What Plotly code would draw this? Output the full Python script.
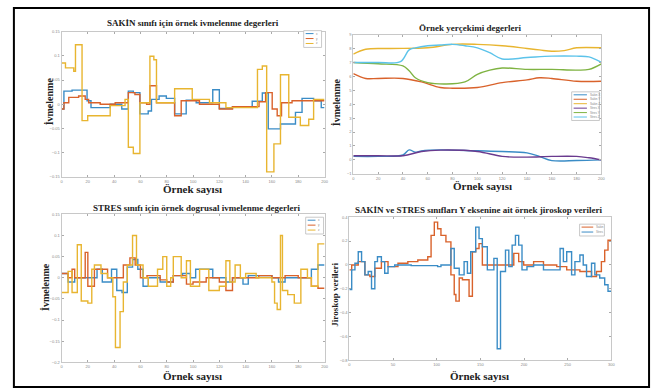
import plotly.graph_objects as go

W, H = 660, 392

BLUE, ORANGE, YELLOW = "#3a8cc6", "#d9622b", "#e8b530"
PURPLE, GREEN, CYAN = "#6a3a8e", "#7fb342", "#5cc3ea"

# ---------- Panel 1: SAKIN acceleration (step signals) ----------
p1_names = ["x", "y", "z"]
p1_blue_x = [0, 1.8, 8, 19.4, 22.4, 37, 45.8, 50.8, 54.6, 59.6, 65.9, 68.4, 74.2, 79.7, 86, 94.8, 102.4, 115, 120, 130, 145, 152.7, 157.2, 166.5, 177.9, 182.9, 191.7, 197.5, 200]
p1_blue_y = [-0.010, 0.027, 0.029, 0.007, -0.007, 0.0, -0.010, 0.027, 0.024, -0.020, -0.014, 0.010, 0.017, 0.012, -0.020, 0.008, 0.003, 0.030, -0.009, -0.005, 0.006, 0.023, -0.051, -0.041, -0.017, 0.012, 0.007, -0.007, -0.007]
p1_red_x = [0, 1.8, 5.5, 13, 18, 20.6, 29.4, 40.8, 50.8, 55.8, 59.6, 64.7, 67.2, 72.2, 86, 91, 104.9, 120, 130, 150.2, 155.2, 160.2, 164, 167.3, 175.3, 200]
p1_red_y = [-0.010, 0.003, 0.014, 0.017, 0.010, 0.003, 0.0, 0.003, 0.024, 0.020, 0.003, 0.0, 0.038, 0.003, -0.024, 0.007, 0.0, -0.010, -0.005, 0.005, 0.024, -0.010, -0.024, 0.003, 0.007, 0.007]
p1_yel_x = [0, 3, 9.3, 10.6, 15.6, 19.9, 37, 48.3, 50.8, 54.6, 59.6, 67.2, 70.2, 72.2, 86, 99.4, 112.5, 125, 149, 152.7, 156, 161.5, 166.5, 172.8, 181.6, 188, 191.7, 200]
p1_yel_y = [0.085, 0.075, 0.068, 0.123, -0.034, -0.024, -0.003, 0.010, -0.089, -0.102, 0.003, 0.099, 0.092, 0.003, 0.032, 0.010, 0.003, -0.007, 0.072, 0.079, -0.140, -0.082, 0.061, -0.027, -0.044, -0.031, 0.010, 0.010]

# ---------- Panel 2: gravity (smooth) ----------
p2_names = ["Sakin X", "Sakin Y", "Sakin Z", "Stres X", "Stres Y", "Stres Z"]
p2_sx_x = [0, 20, 40, 45, 50, 55, 70, 100, 120, 140, 150, 160, 180, 200]
p2_sx_y = [0.25, 0.25, 0.35, 0.72, 0.55, 0.65, 0.72, 0.65, 0.6, 0.5, 0.25, -0.05, -0.05, 0.0]
p2_sy_x = [0, 10, 20, 40, 55, 70, 80, 100, 120, 140, 150, 160, 180, 200]
p2_sy_y = [6.2, 5.85, 5.85, 5.85, 5.6, 5.2, 5.15, 5.2, 5.55, 5.75, 5.9, 5.85, 5.65, 5.65]
p2_sz_x = [0, 10, 30, 60, 80, 100, 120, 140, 150, 160, 170, 180, 200]
p2_sz_y = [7.6, 7.95, 8.0, 8.05, 8.3, 8.3, 8.2, 8.0, 7.9, 7.8, 7.85, 8.05, 8.05]
p2_tx_x = [0, 20, 40, 55, 70, 100, 120, 140, 160, 180, 190, 200]
p2_tx_y = [0.3, 0.3, 0.3, 0.6, 0.7, 0.6, 0.25, 0.2, 0.25, 0.25, 0.15, 0.0]
p2_ty_x = [0, 20, 40, 45, 50, 60, 75, 90, 100, 110, 120, 140, 160, 180, 190, 200]
p2_ty_y = [7.0, 6.9, 6.75, 6.4, 5.9, 5.55, 5.45, 5.6, 6.15, 6.45, 6.6, 6.5, 6.5, 6.45, 6.5, 6.9]
p2_tz_x = [0, 20, 38, 45, 50, 60, 70, 80, 90, 100, 110, 120, 140, 160, 180, 190, 200]
p2_tz_y = [7.0, 7.0, 7.05, 7.9, 8.05, 8.2, 8.25, 8.3, 8.2, 8.05, 7.7, 7.25, 7.35, 7.45, 7.45, 7.4, 7.0]

# ---------- Panel 3: STRES linear acceleration ----------
p3_names = ["x", "y", "z"]
p3_blue_x = [0, 5, 10, 27, 31, 38, 42, 46, 50, 54, 58, 62, 66, 75, 85, 92, 98, 102, 115, 125, 130, 138, 142, 160, 165, 170, 190, 195, 200]
p3_blue_y = [0.01, -0.01, 0.0, 0.02, -0.01, 0.02, -0.03, -0.035, 0.025, 0.043, 0.02, -0.02, 0.0, -0.01, 0.005, 0.01, 0.0, 0.02, 0.0, -0.01, 0.0, -0.015, 0.005, 0.0, -0.01, 0.0, 0.02, 0.03, 0.03]
p3_red_x = [0, 5, 8, 10, 18, 20, 25, 35, 47, 52, 56, 60, 65, 75, 80, 85, 95, 100, 110, 120, 125, 130, 150, 160, 170, 180, 190, 195, 200]
p3_red_y = [0.01, 0.0, 0.02, 0.0, 0.06, -0.02, 0.02, 0.0, 0.03, 0.047, 0.03, 0.0, 0.005, -0.005, -0.01, 0.005, -0.015, -0.01, 0.0, -0.01, -0.03, 0.0, 0.005, 0.0, 0.005, 0.0, -0.02, -0.025, -0.025]
p3_yel_x = [0, 5, 8, 12, 15, 20, 23, 25, 30, 35, 39, 41, 44.5, 47, 50, 54, 57, 62, 66, 73, 77, 80, 83, 85, 91, 95, 98, 105, 112, 120, 125, 128, 132, 136, 140, 145, 148, 155, 160, 162, 164, 166.5, 168, 172, 177, 182, 187, 190, 195, 200]
p3_yel_y = [-0.035, 0.015, -0.035, 0.078, -0.055, -0.06, 0.02, 0.03, 0.01, 0.0, -0.045, -0.165, -0.08, -0.01, 0.03, 0.1, 0.03, 0.0, -0.02, 0.02, 0.05, -0.02, 0.0, 0.05, 0.0, 0.04, -0.02, 0.02, -0.03, -0.02, 0.04, -0.01, 0.03, 0.0, 0.01, 0.01, 0.0, 0.0, -0.01, -0.06, -0.075, 0.1, -0.03, -0.04, -0.06, 0.02, 0.0, -0.02, 0.08, 0.08]

# ---------- Panel 4: gyroscope Y ----------
p4_names = ["Sakin", "Stres"]
p4_sakin_x = [0, 2.7, 10.2, 17.8, 23.5, 29.2, 36.7, 44.3, 55.7, 67, 78.4, 89.8, 93.6, 97.3, 101.1, 104.9, 110.6, 116.3, 120.1, 122, 125.8, 129.5, 137.1, 140.9, 144.7, 148.5, 152.3, 188.3, 193.9, 199.6, 211, 222.3, 237.5, 248.9, 264, 277.3, 283, 288.6, 292.4, 296.2, 300]
p4_sakin_y = [-0.041, 0.0, 0.028, -0.083, -0.097, -0.028, 0.028, -0.014, 0.014, 0.028, 0.041, 0.069, 0.248, 0.359, 0.303, 0.248, 0.193, -0.083, -0.248, -0.303, -0.11, -0.124, -0.262, 0.11, 0.138, 0.179, 0.0, 0.097, 0.028, 0.0, 0.028, 0.0, -0.014, -0.041, -0.055, -0.097, -0.055, 0.028, 0.124, 0.207, 0.207]
p4_stres_x = [0, 2.7, 6.4, 10.2, 14, 17.8, 21.6, 25.4, 29.2, 32.2, 36.7, 40.5, 44.3, 51.9, 70.8, 101.1, 104.9, 116.3, 120.1, 125.8, 131.4, 135.2, 139, 144.7, 148.5, 152.3, 158, 165.5, 169.3, 173.1, 178.8, 182.6, 186.4, 190.2, 193.9, 197.7, 203.4, 211, 222.3, 241.3, 245.1, 248.9, 254.5, 258.3, 264, 267.8, 271.6, 277.3, 281.1, 286.7, 292.4, 296.2, 300]
p4_stres_y = [-0.207, -0.041, 0.014, 0.11, 0.028, -0.083, -0.055, -0.2, 0.028, 0.069, 0.028, -0.069, -0.014, 0.0, -0.006, -0.014, 0.0, 0.138, -0.028, -0.083, 0.028, -0.069, 0.11, 0.317, 0.221, 0.152, -0.041, 0.055, -0.703, -0.055, 0.124, -0.014, 0.166, 0.248, 0.166, -0.041, -0.014, 0.0, -0.041, 0.138, 0.028, 0.11, -0.083, 0.028, 0.083, 0.0, -0.097, 0.014, -0.083, -0.11, -0.166, -0.22, -0.22]

titles = ["SAKİN sınıfı için örnek ivmelenme degerleri",
          "Örnek yerçekimi degerleri",
          "STRES sınıfı için örnek dogrusal ivmelenme degerleri",
          "SAKİN ve STRES sınıfları Y eksenine ait örnek jiroskop verileri"]
xlabel = "Örnek sayısı"
ylabels = ["İvmelenme", "İvmelenme", "İvmelenme", "Jiroskop verileri"]


def fx(p):
    return p / W


def fy(p):
    return 1 - p / H


fig = go.Figure()

panels = [
    dict(x0=61, x1=326, y0=29, y1=176, xr=[0, 200], xdt=20, yr=[-0.15, 0.15], ydt=0.05),
    dict(x0=355, x1=605, y0=32, y1=173, xr=[0, 200], xdt=20, yr=[-1, 9], ydt=1),
    dict(x0=61, x1=326, y0=214, y1=364, xr=[0, 200], xdt=20, yr=[-0.2, 0.15], ydt=0.05),
    dict(x0=351, x1=615, y0=217, y1=362, xr=[0, 300], xdt=50, yr=[-0.8, 0.4], ydt=0.2),
]

series = [
    [(p1_blue_x, p1_blue_y, BLUE, "hv"), (p1_red_x, p1_red_y, ORANGE, "hv"), (p1_yel_x, p1_yel_y, YELLOW, "hv")],
    [(p2_sx_x, p2_sx_y, BLUE, "spline"), (p2_sy_x, p2_sy_y, ORANGE, "spline"), (p2_sz_x, p2_sz_y, YELLOW, "spline"),
     (p2_tx_x, p2_tx_y, PURPLE, "spline"), (p2_ty_x, p2_ty_y, GREEN, "spline"), (p2_tz_x, p2_tz_y, CYAN, "spline")],
    [(p3_blue_x, p3_blue_y, BLUE, "hv"), (p3_red_x, p3_red_y, ORANGE, "hv"), (p3_yel_x, p3_yel_y, YELLOW, "hv")],
    [(p4_sakin_x, p4_sakin_y, ORANGE, "hv"), (p4_stres_x, p4_stres_y, BLUE, "hv")],
]

layout_axes = {}
for i, (pn, ser) in enumerate(zip(panels, series)):
    n = "" if i == 0 else str(i + 1)
    for sx, sy, col, shp in ser:
        fig.add_trace(go.Scatter(x=sx, y=sy, mode="lines", showlegend=False, hoverinfo="skip",
                                 line=dict(color=col, width=1.4, shape=shp),
                                 xaxis="x" + n, yaxis="y" + n))
    common = dict(showline=True, linecolor="#c8c8c8", linewidth=1, mirror="ticks", ticks="inside",
                  ticklen=2, tickcolor="#aaaaaa", showgrid=False, zeroline=False,
                  tickfont=dict(size=4, color="#888888", family="Liberation Sans"))
    layout_axes["xaxis" + n] = dict(common, domain=[fx(pn["x0"]), fx(pn["x1"])], range=pn["xr"],
                                    dtick=pn["xdt"], tick0=0, anchor="y" + n)
    layout_axes["yaxis" + n] = dict(common, domain=[fy(pn["y1"]), fy(pn["y0"])], range=pn["yr"],
                                    dtick=pn["ydt"], tick0=0, anchor="x" + n)

fig.update_layout(**layout_axes)

ann = []
title_pos = [(193, 20), (473, 25), (197, 208), (481, 210)]
xl_pos = [(193, 188), (485, 185), (193, 378), (482, 378)]
yl_pos = [(49, 100), (338, 100), (45, 288), (337, 295)]
for i in range(4):
    ann.append(dict(text="<b>%s</b>" % titles[i], x=fx(title_pos[i][0]), y=fy(title_pos[i][1]),
                    xref="paper", yref="paper", showarrow=False, xanchor="center", yanchor="middle",
                    font=dict(family="Liberation Serif", size=9, color="#222")))
    ann.append(dict(text="<b>%s</b>" % xlabel, x=fx(xl_pos[i][0]), y=fy(xl_pos[i][1]),
                    xref="paper", yref="paper", showarrow=False, xanchor="center", yanchor="middle",
                    font=dict(family="Liberation Serif", size=11, color="#222")))
    ann.append(dict(text="<b>%s</b>" % ylabels[i], x=fx(yl_pos[i][0]), y=fy(yl_pos[i][1]),
                    xref="paper", yref="paper", showarrow=False, textangle=-90,
                    xanchor="center", yanchor="middle",
                    font=dict(family="Liberation Serif", size=10 if i < 3 else 9, color="#222")))

shapes = [dict(type="rect", xref="paper", yref="paper", x0=fx(13), x1=fx(653), y0=fy(389), y1=fy(5),
               line=dict(color="black", width=2))]

# small legends (box + line samples + tiny text)
legends = [
    (305, 28, 18, p1_names, [BLUE, ORANGE, YELLOW]),
    (575, 90, 28, p2_names, [BLUE, ORANGE, YELLOW, PURPLE, GREEN, CYAN]),
    (307, 217, 18, p3_names, [BLUE, ORANGE, YELLOW]),
    (583, 224, 25, p4_names, [ORANGE, BLUE]),
]
for lx, ly, lw, names, cols in legends:
    step = 4.5 if len(names) > 3 else 5
    lh = step * len(names) + 2
    shapes.append(dict(type="rect", xref="paper", yref="paper", x0=fx(lx), x1=fx(lx + lw),
                       y0=fy(ly + lh), y1=fy(ly), line=dict(color="#bbbbbb", width=0.8),
                       fillcolor="white"))
    for k, (nm, c) in enumerate(zip(names, cols)):
        yy = ly + 3 + step * k
        shapes.append(dict(type="line", xref="paper", yref="paper", x0=fx(lx + 2), x1=fx(lx + lw * 0.55),
                           y0=fy(yy), y1=fy(yy), line=dict(color=c, width=1)))
        ann.append(dict(text=nm, x=fx(lx + lw * 0.58), y=fy(yy), xref="paper", yref="paper",
                        xanchor="left", yanchor="middle", showarrow=False,
                        font=dict(size=3, color="#888888", family="Liberation Sans")))

fig.update_layout(width=W, height=H, autosize=False, margin=dict(l=0, r=0, t=0, b=0),
                  paper_bgcolor="white", plot_bgcolor="white", annotations=ann, shapes=shapes,
                  showlegend=False)

fig.write_html("out.html", config={"displayModeBar": False},
               post_script="document.body.style.margin='0px';document.body.style.overflow='hidden';")
